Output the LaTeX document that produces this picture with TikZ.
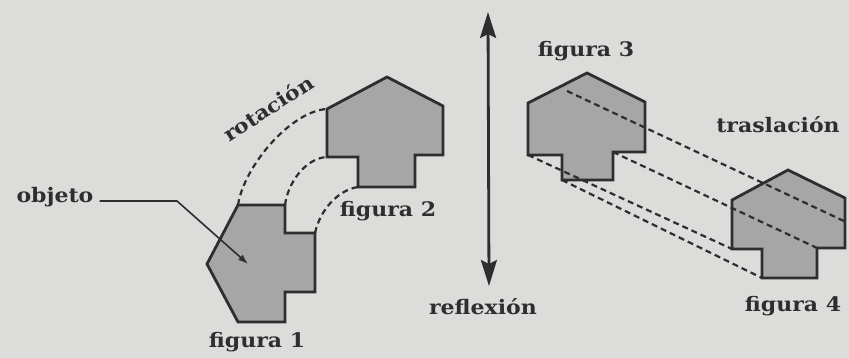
\documentclass[tikz,border=0pt]{standalone}
\usepackage{fontspec}
\setmainfont{DejaVu Serif}
\newfontfamily\lblfont[FakeStretch=1.1]{DejaVu Serif}
\usetikzlibrary{arrows.meta}
\definecolor{bg}{HTML}{DCDCDA}
\definecolor{shapefill}{HTML}{A6A6A6}
\definecolor{ink}{HTML}{2E2E2E}
\begin{document}
\begin{tikzpicture}[x=1pt,y=-1pt,
  lbl/.style={font=\lblfont\fontsize{20}{22}\selectfont\bfseries, text=ink, inner sep=0pt, anchor=base},
  figshape/.style={fill=shapefill, draw=ink, line width=2.8pt, line join=miter},
  trail/.style={draw=ink, line width=2.2pt, dash pattern=on 6pt off 4pt},
]
\fill[bg] (0,0) rectangle (849,358);
\useasboundingbox (0,0) rectangle (849,358);

% named points
\coordinate (f1tl) at (238,205);
\coordinate (f1sr) at (315,233);
\coordinate (f1tr) at (285,205);
\coordinate (f2lr) at (327,109);
\coordinate (f2lb) at (327,157);
\coordinate (f2sl) at (358,187);

% rotation trails
\draw[trail] (f1tl) .. controls (244,166) and (291,111) .. (f2lr);
\draw[trail] (f1tr) .. controls (288,182) and (306,158) .. (f2lb);
\draw[trail] (f1sr) .. controls (320,210) and (338,190) .. (f2sl);

% figure 1 (rotated)
\draw[figshape] (238,205) -- (285,205) -- (285,233) -- (315,233) -- (315,292) -- (285,292) -- (285,322) -- (238,322) -- (207,264) -- cycle;
% figure 2
\draw[figshape] (327,109) -- (387,77) -- (443,106) -- (443,155) -- (415,155) -- (415,187) -- (358,187) -- (358,157) -- (327,157) -- cycle;
% figure 3
\draw[figshape] (528,103) -- (587,73) -- (645,102) -- (645,152) -- (613,152) -- (613,180) -- (562,180) -- (562,155) -- (528,155) -- cycle;
% figure 4
\draw[figshape] (732,200) -- (788,170) -- (845,198) -- (845,248) -- (817,248) -- (817,278) -- (762,278) -- (762,249) -- (732,249) -- cycle;

% translation trails
\coordinate (t1a) at (567,91);   \coordinate (t1b) at (846,222);
\coordinate (t2a) at (613,152);  \coordinate (t2b) at (817,248);
\coordinate (t3a) at (528,155);  \coordinate (t3b) at (732,249);
\coordinate (t4a) at (562,180);  \coordinate (t4b) at (762,278);
\draw[trail] (t1a) -- (t1b);
\draw[trail] (t2a) -- (t2b);
\draw[trail] (t3a) -- (t3b);
\draw[trail] (t4a) -- (t4b);

% reflection axis
\coordinate (rtop) at (488,12);
\coordinate (rbot) at (489,286);
\draw[ink, line width=2.8pt, {Stealth[length=26pt,width=16pt,inset=4pt]}-{Stealth[length=26pt,width=16pt,inset=4pt]}] (rtop) -- (rbot);

% labels
\node[lbl] (objeto) at (55,203) {objeto};
\node[lbl] (fig1) at (257,347) {figura 1};
\node[lbl] (fig2) at (388,217) {figura 2};
\node[lbl, anchor=center, rotate=33] (rot) at (268,108) {rotación};
\node[lbl] (refl) at (483,314) {reflexión};
\node[lbl] (fig3) at (586,57) {figura 3};
\node[lbl] (tras) at (778,133) {traslación};
\node[lbl] (fig4) at (793,312) {figura 4};

% objeto pointer
\coordinate (objbend) at (177,201);
\coordinate (objtip) at (248,264);
\draw[ink, line width=1.6pt, -{Latex[length=10pt,width=7pt]}] ([xshift=6pt,yshift=2pt]objeto.base east) -- (objbend) -- (objtip);
\end{tikzpicture}
\end{document}
